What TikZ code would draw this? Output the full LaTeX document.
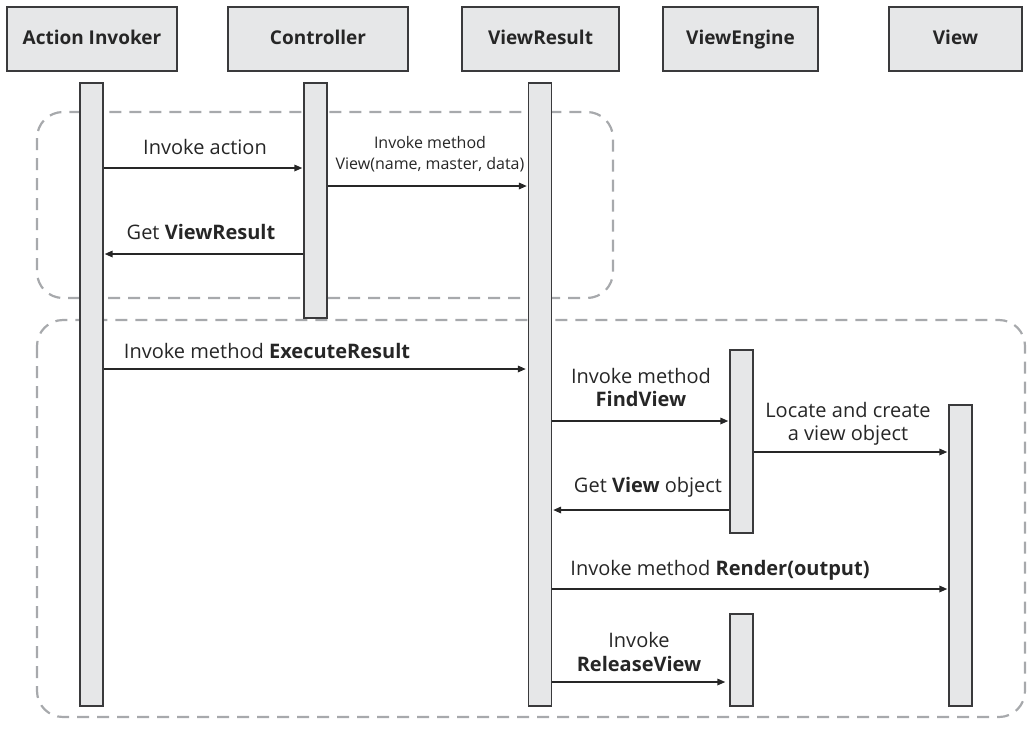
\documentclass[tikz,border=0pt]{standalone}
\usepackage{fontspec}
\setmainfont{Open Sans}
\usetikzlibrary{arrows.meta}
\definecolor{barfill}{HTML}{E6E7E8}
\definecolor{barline}{HTML}{3A3A3C}
\definecolor{grouplne}{HTML}{A7A9AC}
\tikzset{
  head/.style={draw=barline, line width=1.5pt, fill=barfill, minimum height=64pt,
    inner sep=0pt, text height=14pt, text depth=4pt,
    font=\fontsize{19}{22}\selectfont\bfseries, text=black!85},
  bar/.style={draw=barline, line width=1.3pt, fill=barfill, minimum width=23pt, inner sep=0pt},
  msg/.style={line width=1.6pt, draw=black!85, -{Triangle[length=8pt,width=6.5pt]}},
  lbl/.style={inner sep=0pt, font=\fontsize{20}{23}\selectfont, text=black!85, align=center},
  slbl/.style={inner sep=0pt, font=\fontsize{16}{23}\selectfont, text=black!85, align=center},
  group/.style={draw=grouplne, line width=2.2pt, dash pattern=on 12pt off 8pt, rounded corners=26pt}
}
\begin{document}
\begin{tikzpicture}[x=1pt,y=-1pt]
\useasboundingbox (0,0) rectangle (1029,729);

% participant headers
\node[head, minimum width=170pt] (hAI) at (92,39) {Action Invoker};
\node[head, minimum width=180pt] (hCT) at (318,39) {Controller};
\node[head, minimum width=157pt] (hVR) at (540.5,39) {ViewResult};
\node[head, minimum width=155pt] (hVE) at (740.5,39) {ViewEngine};
\node[head, minimum width=133pt] (hV) at (955.5,39) {View};

% interaction groups
\draw[group] (37,112) rectangle (613,298);
\draw[group] (37,320) rectangle (1025,717);

% activation bars
\node[bar, minimum height=623pt] (ai) at (91.5,394.5) {};
\node[bar, minimum height=235pt] (ct) at (315.5,200.5) {};
\node[bar, minimum height=623pt] (vr) at (540,394.5) {};
\node[bar, minimum height=183pt] (ve1) at (741.5,441.5) {};
\node[bar, minimum height=92pt] (ve2) at (741.5,660) {};
\node[bar, minimum height=301pt] (vw) at (960.5,555.5) {};

% messages
\draw[msg] (ai.east |- 0,168) -- ([xshift=-1pt]ct.west |- 0,168);
\node[lbl] (t1) at (205,147) {Invoke action};

\draw[msg] (ct.east |- 0,186) -- ([xshift=-1pt]vr.west |- 0,186);
\node[slbl] (t2) at (430,142) {Invoke method};
\node[slbl] (t3) at (430,165) {View(name, master, data)};

\draw[msg] (ct.west |- 0,254) -- ([xshift=1pt]ai.east |- 0,254);
\node[lbl] (t4) at (201,232) {Get \textbf{ViewResult}};

\draw[msg] (ai.east |- 0,369) -- ([xshift=-2pt]vr.west |- 0,369);
\node[lbl] (t5) at (267,351) {Invoke method \textbf{ExecuteResult}};

\draw[msg] (vr.east |- 0,421) -- ([xshift=-1pt]ve1.west |- 0,421);
\node[lbl] (t6) at (641,376) {Invoke method};
\node[lbl] (t7) at (641,399) {\textbf{FindView}};

\draw[msg] (ve1.east |- 0,452) -- ([xshift=-1pt]vw.west |- 0,452);
\node[lbl] (t8) at (848,410) {Locate and create};
\node[lbl] (t9) at (848,435) {a view object};

\draw[msg] (ve1.west |- 0,510) -- ([xshift=1pt]vr.east |- 0,510);
\node[lbl] (t10) at (648,487) {Get \textbf{View} object};

\draw[msg] (vr.east |- 0,589) -- ([xshift=-1pt]vw.west |- 0,589);
\node[lbl] (t11) at (720,570) {Invoke method \textbf{Render(output)}};

\draw[msg] (vr.east |- 0,682) -- ([xshift=-4pt]ve2.west |- 0,682);
\node[lbl] (t12) at (639,640) {Invoke};
\node[lbl] (t13) at (639,664) {\textbf{ReleaseView}};
\end{tikzpicture}
\end{document}
